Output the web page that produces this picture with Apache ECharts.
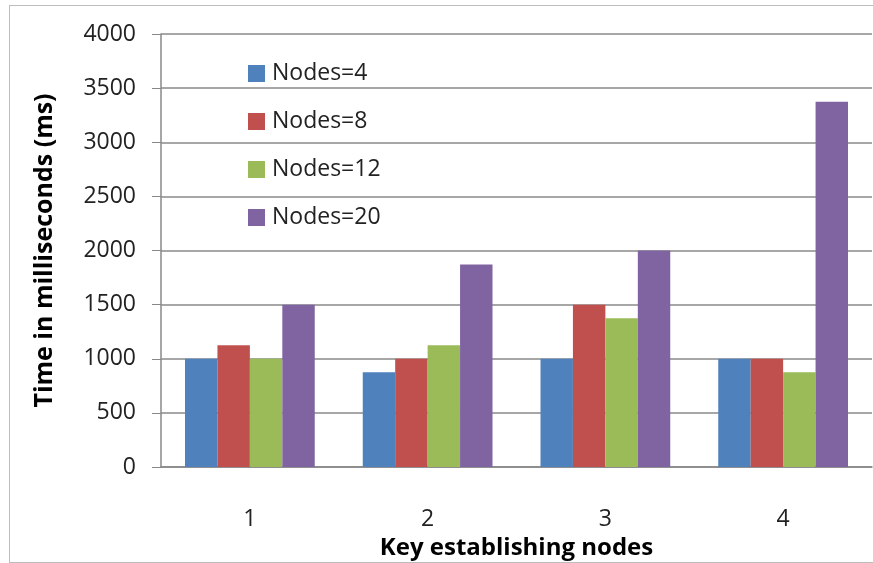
<!DOCTYPE html>
<html>
<head>
<meta charset="utf-8">
<script src="https://cdn.jsdelivr.net/npm/echarts@6/dist/echarts.min.js"></script>
<style>
  html, body { margin: 0; padding: 0; background: #fff; overflow: hidden; }
  #wrap { position: relative; width: 873px; height: 563px; overflow: hidden; }
  #chart { width: 873px; height: 563px; }
  /* 外框 */
  #frame {
    position: absolute; left: 9px; top: 5px; width: 900px; height: 556px;
    border: 1.5px solid #bdbdbd; pointer-events: none;
  }
</style>
</head>
<body>
<div id="wrap">
  <div id="chart"></div>
  <div id="frame"></div>
</div>
<script>
// 数据
const categories = ['1', '2', '3', '4']
const seriesNames = ['Nodes=4', 'Nodes=8', 'Nodes=12', 'Nodes=20']
const nodes4 = [1000, 875, 1000, 1000]
const nodes8 = [1125, 1000, 1500, 1000]
const nodes12 = [1000, 1125, 1375, 875]
const nodes20 = [1500, 1870, 2000, 3375]
const colors = ['#4F81BD', '#C0504D', '#9BBB59', '#8064A2']

const font = '"Open Sans", sans-serif'
const values = [nodes4, nodes8, nodes12, nodes20]

const chart = echarts.init(document.getElementById('chart'))
chart.setOption({
  animation: false,
  textStyle: { fontFamily: font },
  legend: {
    orient: 'vertical',
    left: 243,
    top: 57,
    itemWidth: 17,
    itemHeight: 17,
    itemGap: 25,
    icon: 'rect',
    textStyle: { fontSize: 23, color: '#222', fontFamily: font, padding: [0, 0, 0, 2] },
    data: seriesNames
  },
  grid: {
    left: 161,
    right: 1,
    top: 34,
    bottom: 96,
    outerBoundsMode: 'none'
  },
  xAxis: {
    type: 'category',
    data: categories,
    name: 'Key establishing nodes',
    nameLocation: 'middle',
    nameGap: 46,
    nameTextStyle: { fontSize: 24, fontWeight: 'bold', color: '#000', fontFamily: font },
    axisLine: { lineStyle: { color: '#888', width: 1.5 } },
    axisTick: { length: 10, lineStyle: { color: '#888' } },
    axisLabel: { fontSize: 23, color: '#222', margin: 41 }
  },
  yAxis: {
    type: 'value',
    min: 0,
    max: 4000,
    interval: 500,
    name: 'Time in milliseconds (ms)',
    nameLocation: 'middle',
    nameGap: 104,
    nameTextStyle: { fontSize: 25, fontWeight: 'bold', color: '#000', fontFamily: font },
    axisLine: { show: true, lineStyle: { color: '#888', width: 1.5 } },
    axisTick: { show: true, length: 9, lineStyle: { color: '#888' } },
    axisLabel: { fontSize: 23, color: '#222', margin: 25, formatter: v => String(v) },
    splitLine: { lineStyle: { color: '#8a8a8a', width: 1.5 } }
  },
  series: seriesNames.map((name, i) => ({
    name: name,
    type: 'bar',
    data: values[i],
    barGap: '0%',
    barCategoryGap: '27%',
    itemStyle: { color: colors[i] }
  }))
})
</script>
</body>
</html>
